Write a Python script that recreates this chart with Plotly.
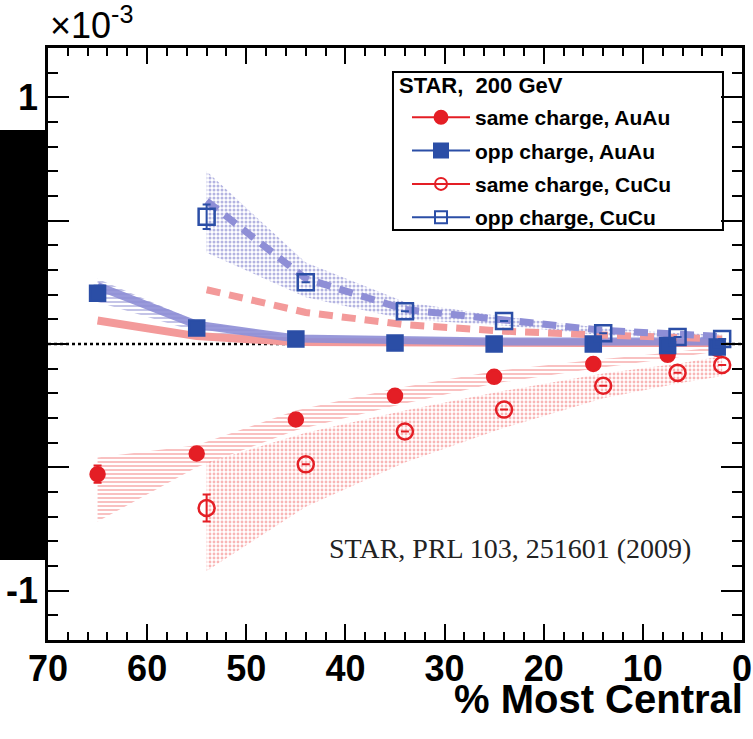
import plotly.graph_objects as go

# Centrality bins (% most central)
cent_au = [65, 55, 45, 35, 25, 15, 7.5, 2.5]
cent_cu = [54, 44, 34, 24, 14, 6.5, 2]

# Correlator values in units of 1e-3
same_au = [-0.528, -0.444, -0.306, -0.210, -0.133, -0.081, -0.044, -0.020]
same_au_err = [0.035, 0, 0, 0, 0, 0, 0, 0]
opp_au = [0.206, 0.065, 0.020, 0.004, 0.000, 0.000, -0.006, -0.012]
opp_au_err = [0.03, 0, 0, 0, 0, 0, 0, 0]
same_cu = [-0.665, -0.488, -0.355, -0.266, -0.169, -0.117, -0.085]
same_cu_err = [0.055, 0, 0, 0, 0, 0, 0]
opp_cu = [0.516, 0.250, 0.133, 0.093, 0.044, 0.028, 0.020]
opp_cu_err = [0.05, 0, 0, 0, 0, 0, 0]

# Systematic bands (upper / lower edges)
band_same_au_hi = [-0.46, -0.41, -0.27, -0.18, -0.11, -0.065, -0.035, -0.012]
band_same_au_lo = [-0.72, -0.50, -0.35, -0.25, -0.16, -0.10, -0.06, -0.03]
band_same_cu_hi = [-0.48, -0.36, -0.27, -0.19, -0.12, -0.08, -0.05]
band_same_cu_lo = [-0.92, -0.66, -0.48, -0.34, -0.22, -0.16, -0.13]
band_opp_cu_hi = [0.70, 0.33, 0.17, 0.11, 0.065, 0.045, 0.038]
band_opp_cu_lo = [0.37, 0.19, 0.10, 0.075, 0.035, 0.022, 0.016]
cent_band_opp_au = [65, 55, 45]
band_opp_au_hi = [0.265, 0.092, 0.030]
band_opp_au_lo = [0.170, 0.050, 0.012]

# Reference curves
curve_opp_au = [0.235, 0.078, 0.022, 0.012, 0.010, 0.010, 0.010, 0.010]
curve_same_au = [0.095, 0.032, 0.008, 0.004, 0.004, 0.004, 0.004, 0.004]
curve_opp_cu = [0.58, 0.265, 0.14, 0.097, 0.055, 0.040, 0.030]
curve_same_cu = [0.22, 0.128, 0.078, 0.052, 0.036, 0.026, 0.020]

# Axis tick labels
x_ticks = [70, 60, 50, 40, 30, 20, 10, 0]
y_ticks = [-1, -0.5, 0, 0.5, 1]
y_ticktext = ["-1", "", "", "", "1"]

RED = "#e41e25"
BLUE = "#2b4ea6"
PINK = "#f39a9a"
LIGHTBLUE = "#8e8ed6"
FONT = "Liberation Sans"

fig = go.Figure()


def band(xs, hi, lo, color, shape, size, solidity):
    fig.add_trace(go.Scatter(
        x=list(xs) + list(xs)[::-1],
        y=list(hi) + list(lo)[::-1],
        fill="toself", mode="lines", line=dict(width=0),
        fillcolor="rgba(0,0,0,0)",
        fillpattern=dict(shape=shape, fgcolor=color, bgcolor="rgba(0,0,0,0)",
                         size=size, solidity=solidity),
        hoverinfo="skip", showlegend=False))


band(cent_au, band_same_au_hi, band_same_au_lo, "#f06464", "-", 4, 0.4)
band(cent_cu, band_same_cu_hi, band_same_cu_lo, "#f26e6e", ".", 4, 0.4)
band(cent_cu, band_opp_cu_hi, band_opp_cu_lo, "#6a6ac4", ".", 4, 0.45)
band(cent_band_opp_au, band_opp_au_hi, band_opp_au_lo, "#6a6ac4", "-", 4, 0.4)

# zero line
fig.add_trace(go.Scatter(x=[70, 0], y=[0, 0], mode="lines",
                         line=dict(color="black", width=2.5, dash="3px,3px"),
                         showlegend=False, hoverinfo="skip"))

# curves
fig.add_trace(go.Scatter(x=cent_au, y=curve_same_au, mode="lines",
                         line=dict(color=PINK, width=8), showlegend=False))
fig.add_trace(go.Scatter(x=cent_au, y=curve_opp_au, mode="lines",
                         line=dict(color=LIGHTBLUE, width=8), opacity=0.9,
                         showlegend=False))
fig.add_trace(go.Scatter(x=cent_cu, y=curve_same_cu, mode="lines",
                         line=dict(color=PINK, width=7, dash="14px,9px"),
                         showlegend=False))
fig.add_trace(go.Scatter(x=cent_cu, y=curve_opp_cu, mode="lines",
                         line=dict(color=LIGHTBLUE, width=7, dash="14px,9px"),
                         showlegend=False))


# data points
def points(xs, ys, errs, color, symbol, size):
    fig.add_trace(go.Scatter(
        x=xs, y=ys, mode="markers",
        marker=dict(symbol=symbol, size=size, color=color,
                    line=dict(color=color, width=2.5)),
        error_y=dict(type="data", array=errs, color=color, thickness=2, width=4),
        showlegend=False))


points(cent_au, same_au, same_au_err, RED, "circle", 14)
points(cent_au, opp_au, opp_au_err, BLUE, "square", 15)
points(cent_cu, same_cu, same_cu_err, RED, "circle-open", 16)
points(cent_cu, opp_cu, opp_cu_err, BLUE, "square-open", 16)

# legend entries
legend_items = [
    ("same charge, AuAu", RED, "circle", 13),
    ("opp charge, AuAu", BLUE, "square", 14),
    ("same charge, CuCu", RED, "circle-open", 12),
    ("opp charge, CuCu", BLUE, "square-open", 12),
]
for i, (name, color, symbol, size) in enumerate(legend_items):
    fig.add_trace(go.Scatter(
        x=[None], y=[None], mode="lines+markers", name=name,
        legendgroup=f"g{i}",
        line=dict(color=color, width=2),
        marker=dict(symbol=symbol, size=size, color=color,
                    line=dict(color=color, width=2))))

axis_common = dict(
    showline=True, linecolor="black", linewidth=2.5, mirror="allticks",
    ticks="inside", tickcolor="black", tickwidth=2, showgrid=False,
    zeroline=False, automargin=False,
    tickfont=dict(family=FONT, size=36, color="black", weight="bold"),
)

fig.update_xaxes(
    range=[70, 0], tickmode="array", tickvals=x_ticks, ticklen=16,
    ticklabelstandoff=-5,
    minor=dict(dtick=2, tick0=0, ticklen=8, tickwidth=2, ticks="inside",
               tickcolor="black", showgrid=False),
    **axis_common)
fig.update_yaxes(
    range=[-1.2, 1.2], tickmode="array", tickvals=y_ticks,
    ticktext=y_ticktext, ticklen=21,
    minor=dict(dtick=0.1, tick0=0, ticklen=10, tickwidth=2, ticks="inside",
               tickcolor="black", showgrid=False),
    **axis_common)

fig.update_layout(
    width=753, height=739,
    margin=dict(l=48, r=11, t=48, b=99),
    plot_bgcolor="white", paper_bgcolor="white",
    legend=dict(
        x=0.5, y=0.917, xanchor="left", yanchor="top",
        bgcolor="rgba(0,0,0,0)", borderwidth=0,
        font=dict(family=FONT, size=21, color="black", weight="bold"),
        tracegroupgap=3, itemwidth=58, indentation=12,
    ),
    shapes=[
        # legend frame
        dict(type="rect", xref="paper", yref="paper",
             x0=0.4971, x1=0.9726, y0=0.6926, y1=0.9595,
             fillcolor="white", line=dict(color="black", width=2),
             layer="below"),
        dict(type="rect", xref="paper", yref="paper",
             x0=-0.075, x1=-0.0043, y0=0.135, y1=0.8615,
             fillcolor="black", line=dict(width=0), layer="above"),
    ],
    annotations=[
        dict(text="STAR,\u00a0 200 GeV", xref="paper", yref="paper",
             x=0.5025, y=0.9365, xanchor="left", yanchor="middle",
             showarrow=False,
             font=dict(family=FONT, size=22, color="black", weight="bold")),
        dict(text="×10<sup>-3</sup>", xref="paper", yref="paper", x=0, y=1,
             xanchor="left", yanchor="bottom", showarrow=False, yshift=0,
             font=dict(family=FONT, size=36, color="black")),
        dict(text="% Most Central", xref="paper", yref="paper", x=1.005,
             y=-0.1, xanchor="right", yanchor="middle", showarrow=False,
             font=dict(family=FONT, size=40, color="black", weight="bold")),
        dict(text="STAR, PRL 103, 251601 (2009)", x=23.4, y=-0.83,
             showarrow=False,
             font=dict(family="Liberation Serif", size=28, color="#222222")),
    ],
)

fig.write_html("out.html")
